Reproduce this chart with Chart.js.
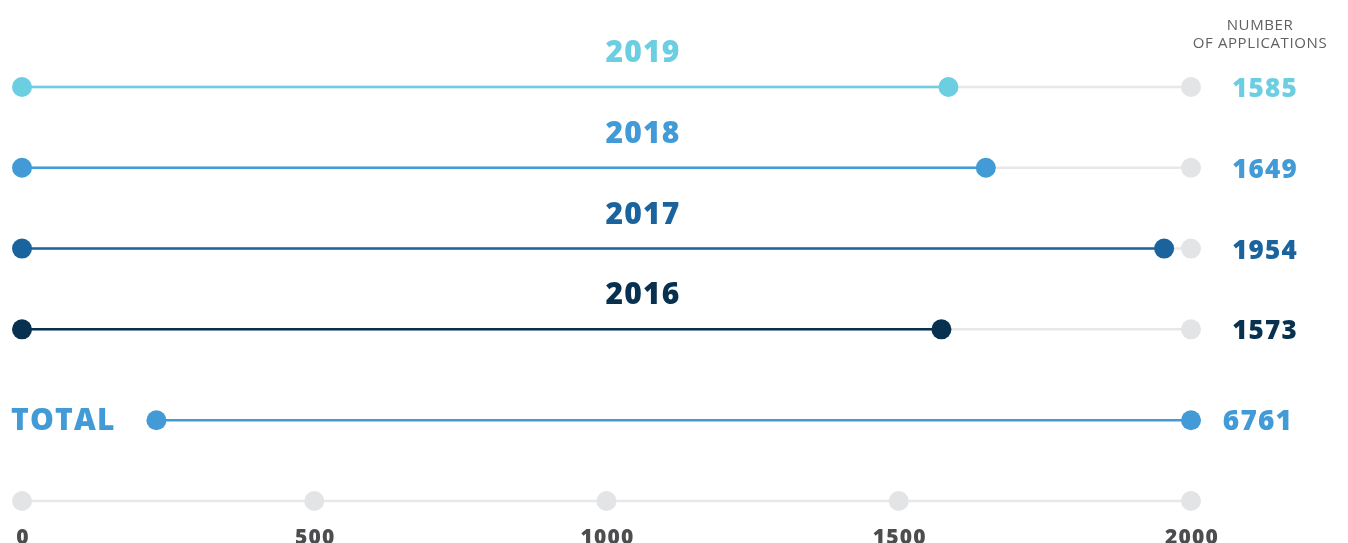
<!DOCTYPE html>
<html>
<head>
<meta charset="utf-8">
<script src="https://cdn.jsdelivr.net/npm/chart.js@4"></script>
<style>
html,body{margin:0;padding:0;background:#fff;overflow:hidden;}
canvas{display:block;}
</style>
</head>
<body>
<canvas id="c" width="1348" height="543"></canvas>
<script>
// ---- data ----
const years = ['2019', '2018', '2017', '2016'];
const applications = [1585, 1649, 1954, 1573];
const totalLabel = 'TOTAL';
const totalApplications = 6761;
const totalLineStart = 230;
const axisTicks = [0, 500, 1000, 1500, 2000];
const headerLines = ['NUMBER', 'OF APPLICATIONS'];

// ---- styles ----
const rowColors = ['#6ccee1', '#429bd6', '#1b639c', '#08314f'];
const totalColor = '#429bd6';
const trackColor = '#e8e8e8';
const trackDot = '#e3e4e6';
const FONT = '"Open Sans", "DejaVu Sans", sans-serif';

const axisMax = axisTicks[axisTicks.length - 1];
const totalRow = years.length + 0.125;
const axisRow = totalRow + 1;

const datasets = [];
years.forEach((y, i) => {
  datasets.push({
    order: 0,
    data: [{x: 0, y: i}, {x: applications[i], y: i}],
    borderColor: rowColors[i], borderWidth: 2.5,
    pointRadius: 10, pointBackgroundColor: rowColors[i], pointBorderWidth: 0,
    clip: false
  });
  datasets.push({
    order: 1,
    data: [{x: 0, y: i}, {x: axisMax, y: i}],
    borderColor: trackColor, borderWidth: 2.5,
    pointRadius: [0, 10], pointBackgroundColor: trackDot, pointBorderWidth: 0,
    clip: false
  });
});
datasets.push({
  order: 0,
  data: [{x: totalLineStart, y: totalRow}, {x: Math.min(totalApplications, axisMax), y: totalRow}],
  borderColor: totalColor, borderWidth: 2.5,
  pointRadius: 10, pointBackgroundColor: totalColor, pointBorderWidth: 0,
  clip: false
});
datasets.push({
  order: 1,
  data: axisTicks.map(t => ({x: t, y: axisRow})),
  borderColor: trackColor, borderWidth: 2.5,
  pointRadius: 10, pointBackgroundColor: trackDot, pointBorderWidth: 0,
  clip: false
});

function spaced(ctx, px) { if ('letterSpacing' in ctx) ctx.letterSpacing = px + 'px'; }

const textPlugin = {
  id: 'texts',
  afterDraw(chart) {
    const ctx = chart.ctx;
    const xs = chart.scales.x, ys = chart.scales.y;
    ctx.save();
    ctx.textBaseline = 'alphabetic';
    spaced(ctx, 1.2);
    // year labels and values
    years.forEach((y, i) => {
      const py = ys.getPixelForValue(i);
      ctx.fillStyle = rowColors[i];
      ctx.font = `800 30px ${FONT}`;
      ctx.textAlign = 'center';
      ctx.fillText(y, 643, py - 25);
      ctx.font = `800 26px ${FONT}`;
      ctx.fillText(String(applications[i]), 1265, py + 10);
    });
    // total
    const ty = ys.getPixelForValue(totalRow);
    ctx.fillStyle = totalColor;
    ctx.font = `800 30px ${FONT}`;
    ctx.textAlign = 'left';
    ctx.fillText(totalLabel, 11, ty + 10);
    ctx.font = `800 28px ${FONT}`;
    ctx.textAlign = 'center';
    ctx.fillText(String(totalApplications), 1258, ty + 10);
    // axis tick labels
    ctx.fillStyle = '#4d4d4f';
    ctx.font = `800 21px ${FONT}`;
    axisTicks.forEach(t => {
      ctx.fillText(String(t), xs.getPixelForValue(t) + 1, 544);
    });
    // header
    spaced(ctx, 0.6);
    ctx.fillStyle = '#606060';
    ctx.font = `400 15px ${FONT}`;
    ctx.fillText(headerLines[0], 1260, 30);
    ctx.fillText(headerLines[1], 1260, 48);
    ctx.restore();
  }
};

new Chart(document.getElementById('c'), {
  type: 'line',
  data: {datasets},
  options: {
    responsive: false,
    animation: false,
    events: [],
    layout: {padding: {left: 22, right: 157, top: 87, bottom: 42}},
    plugins: {legend: {display: false}, tooltip: {enabled: false}},
    scales: {
      x: {type: 'linear', min: 0, max: axisMax, display: false},
      y: {type: 'linear', min: 0, max: axisRow, reverse: true, display: false}
    }
  },
  plugins: [textPlugin]
});
</script>
</body>
</html>
